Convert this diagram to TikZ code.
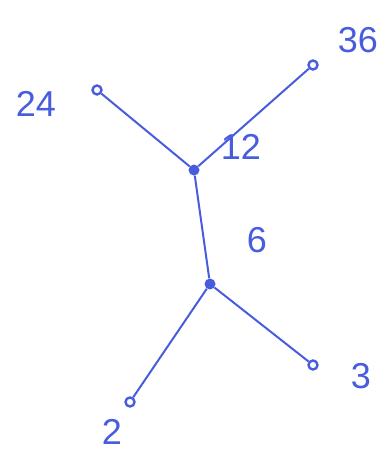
\documentclass[tikz,border=0pt]{standalone}
\usepackage{fontspec}
\setmainfont{Liberation Sans}
\usetikzlibrary{positioning}
\definecolor{pen}{RGB}{72,92,222}

\begin{document}
\begin{tikzpicture}[x=1pt, y=-1pt,
    leaf/.style={circle, draw=pen, line width=2.4pt, inner sep=0pt, minimum size=9pt},
    joint/.style={circle, fill=pen, inner sep=0pt, minimum size=11pt},
    num/.style={text=pen, font=\fontsize{36}{38}\selectfont},
    wire/.style={draw=pen, line width=2pt}
  ]
  \useasboundingbox (0,0) rectangle (388,452);
  \node[leaf] (n24) at (97,90) {};
  \node[leaf] (n36) at (313,65) {};
  \node[joint] (top) at (194,170) {};
  \node[joint] (bot) at (210,284) {};
  \node[leaf] (n2) at (130,402) {};
  \node[leaf] (n3) at (313,365) {};
  % leaf labels
  \node[num] (l24) at (36,104) {24};
  \node[num] (l36) at (358,40) {36};
  \node[num] (l2) at (112,432) {2};
  \node[num] (l3) at (361,376) {3};
  % edges
  \draw[wire] (n24) -- (top);
  \draw[wire] (n36) -- (top);
  \draw[wire] (top) -- (bot);
  \draw[wire] (bot) -- (n2);
  \draw[wire] (bot) -- (n3);
  \node[num] (l12) at (241,147) {12};
  \node[num] (l6) at (257,240) {6};
\end{tikzpicture}
\end{document}
